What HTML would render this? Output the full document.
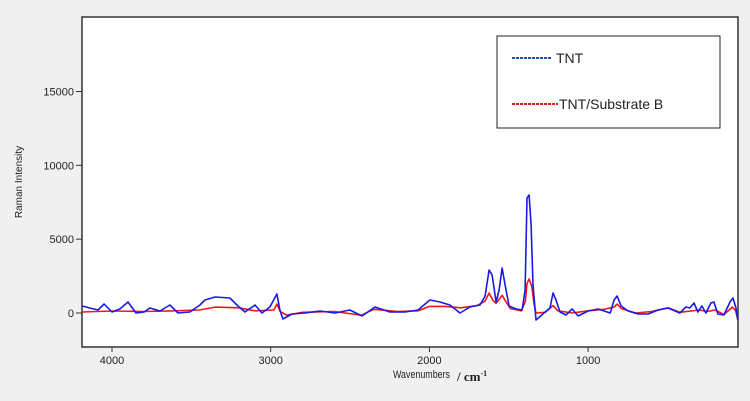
<!DOCTYPE html>
<html><head><meta charset="utf-8"><style>
html,body{margin:0;padding:0;background:#f0f0f0;width:750px;height:401px;overflow:hidden;font-family:"Liberation Sans",sans-serif}
</style></head><body>
<svg id="chart" width="750" height="401" xmlns="http://www.w3.org/2000/svg">
<rect x="82" y="17" width="656" height="330" fill="#fff" stroke="#333" stroke-width="1.5"/>
<g id="ticks"></g>
<g id="series"></g>
<text transform="translate(22,182) rotate(-90)" text-anchor="middle" font-size="10" fill="#222">Raman Intensity</text>
<text x="393" y="378" font-size="11" textLength="57" lengthAdjust="spacingAndGlyphs" fill="#222">Wavenumbers</text>
<text x="457" y="381" font-size="13" font-weight="bold" font-family="Liberation Serif,serif" fill="#222">/ cm<tspan font-size="8" dy="-5">-1</tspan></text>
<g>
<rect x="497" y="36" width="223" height="92" fill="#fff" stroke="#222" stroke-width="1"/>
<line x1="512" y1="58" x2="552" y2="58" stroke="#1f4fb0" stroke-width="2" stroke-dasharray="3,1"/>
<text x="556" y="63" font-size="14" fill="#222">TNT</text>
<line x1="512" y1="104" x2="558" y2="104" stroke="#e02020" stroke-width="2" stroke-dasharray="3,1"/>
<text x="559" y="109" font-size="14" fill="#222">TNT/Substrate B</text>
</g>
</svg>
<script>
const blueWn=[4189,4139,4088,4050,4000,3950,3899,3849,3798,3761,3698,3635,3584,3509,3446,3414,3351,3257,3206,3162,3099,3055,3005,2961,2942,2923,2866,2784,2690,2595,2501,2425,2343,2249,2154,2072,1997,1934,1871,1807,1744,1681,1649,1624,1605,1580,1561,1542,1523,1498,1454,1416,1397,1385,1372,1359,1347,1328,1271,1240,1221,1202,1177,1139,1101,1063,1000,937,861,836,817,792,748,685,622,559,496,422,384,359,333,308,283,258,226,207,182,144,106,87,68,56];
const blueI=[474,339,203,609,68,271,745,0,68,339,135,542,0,68,542,880,1083,1016,474,68,542,0,406,1286,203,-406,-68,0,135,0,203,-203,406,68,68,203,880,745,542,0,406,542,1151,2911,2573,745,1557,3047,1896,474,271,203,1557,7786,7989,5958,1896,-474,68,339,1354,880,68,-135,271,-203,135,271,0,880,1151,474,135,-68,-68,203,339,0,406,339,677,68,474,0,677,745,-68,-135,745,1016,339,-474];
const redWn=[4189,4000,3800,3600,3450,3350,3200,3100,2980,2961,2940,2900,2800,2600,2430,2350,2200,2070,2000,1900,1800,1700,1650,1624,1600,1580,1542,1520,1490,1420,1395,1385,1372,1355,1340,1328,1270,1221,1190,1100,1000,900,836,817,790,700,600,496,422,300,250,200,144,90,70,56];
const redI=[68,135,100,150,200,400,350,150,200,600,100,-150,50,100,-150,250,100,150,450,450,350,500,800,1350,850,650,1200,800,300,150,800,2000,2300,1800,600,0,50,500,150,0,150,250,400,600,300,0,100,350,50,200,100,200,-100,400,150,-500];
const yTicks=[0,5000,10000,15000];
const xTicks=[4000,3000,2000,1000];
const xS=w=>112+(4000-w)*0.1587;
const yS=v=>313-v*0.014767;
const NS='http://www.w3.org/2000/svg';
const tg=document.getElementById('ticks'),sg=document.getElementById('series');
function mk(tag,attrs,parent){const e=document.createElementNS(NS,tag);for(const k in attrs)e.setAttribute(k,attrs[k]);parent.appendChild(e);return e;}
yTicks.forEach(v=>{const y=yS(v);
const l=mk('line',{x1:76,x2:82,y1:y,y2:y,stroke:'#333'},tg);


const t=mk('text',{x:74,y:y+4,'text-anchor':'end','font-size':11,fill:'#222'},tg);t.textContent=v;

});
xTicks.forEach(v=>{const x=xS(v);
const l=mk('line',{x1:x,x2:x,y1:347,y2:352,stroke:'#333'},tg);


const t=mk('text',{x:x,y:364,'text-anchor':'middle','font-size':11,fill:'#222'},tg);t.textContent=v;

});
function line(wn,iv,color,name){const d=wn.map((w,i)=>(i?'L':'M')+xS(w).toFixed(1)+','+yS(iv[i]).toFixed(1)).join('');
const p=mk('path',{d:d,fill:'none',stroke:color,'stroke-width':1.6,'stroke-linejoin':'round'},sg);

}
line(redWn,redI,'#f01818','series-tnt-substrate-b');
line(blueWn,blueI,'#1a1ae6','series-tnt');
</script>
</body></html>
